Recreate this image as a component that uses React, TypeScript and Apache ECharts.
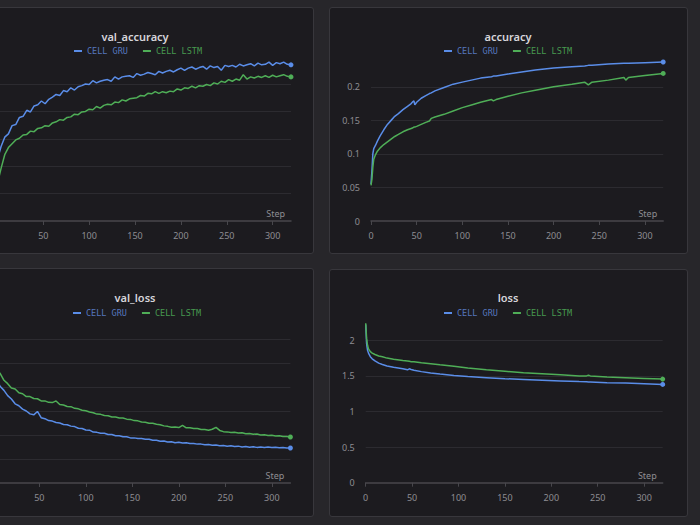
import React, { useRef, useEffect } from 'react';
import * as echarts from 'echarts';

// ---- data ----
const valSteps = [
  0, 1, 2, 4, 8, 12, 16, 20, 24, 28, 32, 36, 40, 44, 48, 52, 56, 60, 64, 68, 72, 76, 80, 84, 88, 92, 96,
  100, 104, 108, 112, 116, 120, 124, 128, 132, 136, 140, 144, 148, 152, 156, 160, 164, 168, 172, 176,
  180, 184, 188, 192, 196, 200, 204, 208, 212, 216, 220, 224, 228, 232, 236, 240, 244, 248, 252, 256,
  260, 264, 268, 272, 276, 280, 284, 288, 292, 296, 300, 304, 308, 312, 316, 320,
];

const valAccGru = [
  0.07, 0.098, 0.124, 0.136, 0.153, 0.159, 0.174, 0.176, 0.189, 0.191, 0.202, 0.199, 0.21, 0.212, 0.219,
  0.214, 0.222, 0.226, 0.231, 0.229, 0.238, 0.236, 0.243, 0.239, 0.245, 0.247, 0.25, 0.249, 0.256, 0.252,
  0.255, 0.257, 0.258, 0.255, 0.263, 0.259, 0.263, 0.264, 0.265, 0.262, 0.269, 0.266, 0.268, 0.271, 0.269,
  0.267, 0.273, 0.27, 0.273, 0.275, 0.272, 0.276, 0.279, 0.275, 0.279, 0.281, 0.277, 0.28, 0.282, 0.277,
  0.283, 0.28, 0.282, 0.275, 0.284, 0.282, 0.284, 0.281, 0.286, 0.283, 0.285, 0.287, 0.283, 0.288, 0.285,
  0.286, 0.29, 0.284, 0.289, 0.287, 0.29, 0.286, 0.285,
];

const valAccLstm = [
  0.055, 0.068, 0.082, 0.096, 0.121, 0.134, 0.141, 0.148, 0.151, 0.157, 0.158, 0.164, 0.163, 0.169, 0.17,
  0.174, 0.173, 0.179, 0.181, 0.185, 0.184, 0.189, 0.19, 0.195, 0.194, 0.199, 0.2, 0.204, 0.203, 0.209,
  0.206, 0.211, 0.213, 0.212, 0.217, 0.216, 0.221, 0.219, 0.223, 0.224, 0.225, 0.229, 0.228, 0.233, 0.232,
  0.236, 0.233, 0.236, 0.234, 0.237, 0.236, 0.241, 0.239, 0.243, 0.242, 0.246, 0.243, 0.247, 0.246, 0.249,
  0.247, 0.252, 0.25, 0.255, 0.253, 0.258, 0.255, 0.259, 0.257, 0.267, 0.259, 0.263, 0.261, 0.264, 0.262,
  0.265, 0.262, 0.266, 0.263, 0.265, 0.267, 0.264, 0.263,
];

const valLossGru = [
  2.45, 2.33, 2.24, 2.16, 2.01, 1.93, 1.82, 1.75, 1.65, 1.61, 1.54, 1.5, 1.44, 1.42, 1.49, 1.36, 1.34, 1.3,
  1.29, 1.26, 1.25, 1.22, 1.215, 1.185, 1.175, 1.14, 1.135, 1.105, 1.1, 1.06, 1.055, 1.035, 1.035, 1.01,
  1.01, 0.985, 0.985, 0.965, 0.965, 0.94, 0.94, 0.925, 0.925, 0.91, 0.91, 0.89, 0.89, 0.87, 0.875, 0.855,
  0.86, 0.84, 0.85, 0.835, 0.84, 0.825, 0.825, 0.81, 0.81, 0.795, 0.8, 0.785, 0.79, 0.775, 0.78, 0.768,
  0.775, 0.76, 0.768, 0.752, 0.76, 0.745, 0.755, 0.742, 0.752, 0.74, 0.75, 0.738, 0.745, 0.735, 0.738,
  0.728, 0.729,
];

const valLossLstm = [
  2.75, 2.62, 2.5, 2.37, 2.28, 2.14, 2.07, 1.98, 1.96, 1.88, 1.86, 1.8, 1.8, 1.76, 1.755, 1.71, 1.71, 1.68,
  1.675, 1.71, 1.635, 1.625, 1.595, 1.59, 1.555, 1.545, 1.515, 1.505, 1.48, 1.465, 1.435, 1.43, 1.405, 1.4,
  1.375, 1.375, 1.355, 1.355, 1.33, 1.325, 1.3, 1.295, 1.27, 1.265, 1.245, 1.245, 1.225, 1.215, 1.19, 1.18,
  1.16, 1.165, 1.155, 1.2, 1.15, 1.15, 1.135, 1.135, 1.115, 1.115, 1.1, 1.12, 1.16, 1.095, 1.07, 1.065,
  1.05, 1.055, 1.04, 1.045, 1.025, 1.03, 1.015, 1.02, 1.0, 1.005, 0.99, 0.995, 0.98, 0.985, 0.97, 0.968,
  0.958,
];

const accSteps = [
  0, 1, 2, 3, 5, 7, 10, 14, 18, 22, 26, 30, 35, 40, 44, 46, 47, 48, 50, 55, 60, 64, 66, 70, 80, 90, 100,
  110, 120, 132, 134, 137, 150, 165, 180, 200, 220, 234, 238, 242, 260, 277, 279, 282, 300, 320,
];
const accGru = [
  0.055, 0.075, 0.1, 0.108, 0.113, 0.119, 0.127, 0.136, 0.144, 0.15, 0.156, 0.16, 0.166, 0.171, 0.175,
  0.178, 0.179, 0.173, 0.177, 0.183, 0.187, 0.19, 0.191, 0.194, 0.199, 0.204, 0.207, 0.21, 0.213, 0.215,
  0.216, 0.216, 0.219, 0.222, 0.225, 0.228, 0.23, 0.231, 0.232, 0.232, 0.234, 0.235, 0.235, 0.235, 0.236,
  0.237,
];
const accLstm = [
  0.053, 0.062, 0.08, 0.092, 0.099, 0.104, 0.109, 0.114, 0.118, 0.122, 0.126, 0.129, 0.133, 0.136, 0.138,
  0.139, 0.14, 0.14, 0.141, 0.144, 0.147, 0.149, 0.153, 0.155, 0.159, 0.164, 0.169, 0.173, 0.177, 0.181,
  0.179, 0.181, 0.186, 0.191, 0.195, 0.2, 0.204, 0.207, 0.203, 0.207, 0.21, 0.214, 0.21, 0.214, 0.217,
  0.22,
];

const lossSteps = [
  0, 1, 2, 3, 5, 7, 10, 14, 18, 23, 30, 40, 45, 47, 49, 52, 60, 70, 80, 95, 110, 130, 150, 170, 190, 210,
  230, 238, 240, 242, 260, 280, 300, 320,
];
const lossGru = [
  2.22, 1.95, 1.86, 1.82, 1.77, 1.74, 1.71, 1.68, 1.66, 1.64, 1.62, 1.6, 1.585, 1.6, 1.59, 1.58, 1.56, 1.54,
  1.525, 1.505, 1.49, 1.475, 1.46, 1.45, 1.44, 1.43, 1.42, 1.418, 1.416, 1.415, 1.405, 1.4, 1.39, 1.38,
];
const lossLstm = [
  2.24, 2.02, 1.93, 1.88, 1.84, 1.82, 1.8, 1.78, 1.77, 1.75, 1.735, 1.715, 1.71, 1.705, 1.7, 1.7, 1.685,
  1.67, 1.655, 1.635, 1.61, 1.585, 1.565, 1.545, 1.53, 1.515, 1.5, 1.5, 1.51, 1.5, 1.485, 1.475, 1.465,
  1.455,
];

const stepTicks = [0, 50, 100, 150, 200, 250, 300];
const stepTicksCut = [50, 100, 150, 200, 250, 300]; // 0 falls off the left edge

const GRU = 'CELL GRU';
const LSTM = 'CELL LSTM';

// ---- look ----
const GRU_LINE = '#5a8de8';
const LSTM_LINE = '#4fae57';
const GRU_TEXT = '#5576bd';
const LSTM_TEXT = '#47994f';
const LABEL = '#8e8d92';
const AXIS = '#48474c';
const GRID = '#2c2b30';
const FONT = '"Noto Sans", "DejaVu Sans", sans-serif';

// the chart canvas starts OX px left of the window so the left panels can run off the edge
const OX = 60;

const panels = [
  {
    title: 'val_accuracy', cx: 135, titleTop: 31, legendLeft: 74, legendTop: 46.5,
    grid: { left: -2.6, right: 409, top: 56.6, bottom: 304 },
    yMax: 0.3, yInterval: 0.05, showY: false, ticks: stepTicksCut,
    steps: valSteps, gru: valAccGru, lstm: valAccLstm,
  },
  {
    title: 'accuracy', cx: 508, titleTop: 31, legendLeft: 444, legendTop: 46.5,
    grid: { left: 371, right: 36.8, top: 60, bottom: 304 },
    yMax: 0.24, yInterval: 0.05, showY: true, ticks: stepTicks,
    steps: accSteps, gru: accGru, lstm: accLstm,
  },
  {
    title: 'val_loss', cx: 135, titleTop: 292, legendLeft: 73, legendTop: 308.5,
    grid: { left: -7.2, right: 409.6, top: 322.2, bottom: 42 },
    yMax: 3.35, yInterval: 0.5, showY: false, ticks: stepTicksCut,
    steps: valSteps, gru: valLossGru, lstm: valLossLstm,
  },
  {
    title: 'loss', cx: 508, titleTop: 292, legendLeft: 444, legendTop: 308.5,
    grid: { left: 365.7, right: 37.3, top: 322.5, bottom: 42.3 },
    yMax: 2.25, yInterval: 0.5, showY: true, ticks: stepTicks,
    steps: lossSteps, gru: lossGru, lstm: lossLstm,
  },
];

const boxes = [
  { left: -44, top: 7, width: 358, height: 247 },
  { left: 329, top: 7, width: 359, height: 247 },
  { left: -44, top: 268, width: 358, height: 249 },
  { left: 329, top: 269, width: 359, height: 248 },
];

const pairs = (steps: number[], values: number[]) => steps.map((s, i) => [s, values[i]]);

const makeLine = (name: string, color: string, idx: number, data: number[][]) => ({
  name,
  type: 'line',
  xAxisIndex: idx,
  yAxisIndex: idx,
  data,
  color,
  silent: true,
  showSymbol: true,
  showAllSymbol: true,
  symbol: 'circle',
  symbolSize: (_v: any, p: any) => (p.dataIndex === data.length - 1 ? 5 : 0),
  lineStyle: { width: 1.5, color },
  itemStyle: { color },
});

const App: React.FC = () => {
  const chartRef = useRef<HTMLDivElement>(null);

  useEffect(() => {
    if (!chartRef.current) return;
    const chart = echarts.init(chartRef.current, null, { renderer: 'svg' });

    const option: any = {
      animation: false,
      backgroundColor: 'transparent',
      textStyle: { fontFamily: FONT },
      title: panels.map((p) => ({
        text: p.title,
        left: p.cx + OX,
        top: p.titleTop,
        textAlign: 'center',
        padding: 0,
        textStyle: { color: '#d6d5da', fontSize: 11, fontWeight: 600, fontFamily: FONT },
      })),
      legend: panels.map((p) => ({
        left: p.legendLeft + OX,
        top: p.legendTop,
        padding: 0,
        icon: 'rect',
        itemWidth: 8,
        itemHeight: 2,
        itemGap: 15,
        selectedMode: false,
        textStyle: { fontFamily: '"DejaVu Sans Mono", monospace', fontSize: 8.5 },
        data: [
          { name: GRU, textStyle: { color: GRU_TEXT } },
          { name: LSTM, textStyle: { color: LSTM_TEXT } },
        ],
      })),
      grid: panels.map((p) => ({ ...p.grid, left: p.grid.left + OX })),
      xAxis: panels.map((p, i) => ({
        type: 'value',
        gridIndex: i,
        min: 0,
        max: 320,
        interval: 50,
        name: 'Step',
        nameLocation: 'end',
        nameGap: -6,
        nameTextStyle: {
          color: LABEL, fontSize: 9, align: 'right', verticalAlign: 'bottom', padding: [0, 0, 3, 0],
        },
        axisLine: { show: true, lineStyle: { color: AXIS, width: 1.5 } },
        axisTick: { show: true, length: 4, customValues: p.ticks, lineStyle: { color: AXIS } },
        axisLabel: { color: LABEL, fontSize: 9, margin: 10, customValues: p.ticks },
        splitLine: { show: false },
      })),
      yAxis: panels.map((p, i) => ({
        type: 'value',
        gridIndex: i,
        min: 0,
        max: p.yMax,
        interval: p.yInterval,
        axisLine: { show: false },
        axisTick: { show: false },
        axisLabel: { show: p.showY, color: LABEL, fontSize: 9, margin: 11, showMaxLabel: false },
        splitLine: { show: true, showMinLine: false, showMaxLine: false, lineStyle: { color: GRID, width: 1 } },
      })),
      series: panels.flatMap((p, i) => [
        makeLine(GRU, GRU_LINE, i, pairs(p.steps, p.gru)),
        makeLine(LSTM, LSTM_LINE, i, pairs(p.steps, p.lstm)),
      ]),
    };

    chart.setOption(option);
    return () => {
      chart.dispose();
    };
  }, []);

  return (
    <div
      style={{
        position: 'absolute', left: 0, top: 0, width: 700, height: 525,
        background: '#27262a', overflow: 'hidden',
      }}
    >
      {boxes.map((b, i) => (
        <div
          key={i}
          style={{
            position: 'absolute', ...b, boxSizing: 'border-box',
            background: '#1c1b1f', border: '1px solid #38373c', borderRadius: 3,
          }}
        />
      ))}
      <div
        ref={chartRef}
        style={{ position: 'absolute', left: -OX, top: 0, width: 700 + OX, height: 525 }}
      />
    </div>
  );
};

export default App;
